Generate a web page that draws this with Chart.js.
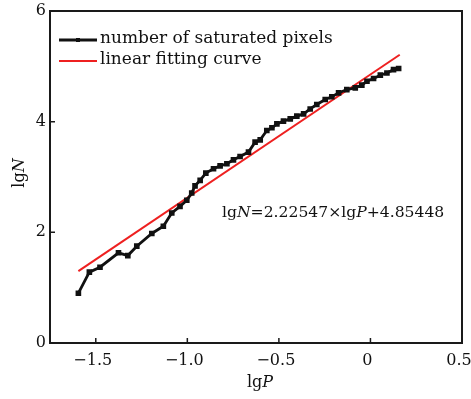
<!DOCTYPE html>
<html>
<head>
<meta charset="utf-8">
<script src="https://cdn.jsdelivr.net/npm/chart.js@4.4.1/dist/chart.umd.min.js"></script>
<style>
  html, body { margin: 0; padding: 0; background: #fff; }
  #wrap { width: 471px; height: 399px; }
</style>
</head>
<body>
<div id="wrap"><canvas id="c" width="471" height="399"></canvas></div>
<script>
const lgP = [-1.595, -1.535, -1.477, -1.376, -1.325, -1.276, -1.194, -1.131, -1.085, -1.040,
  -1.003, -0.976, -0.958, -0.930, -0.899, -0.857, -0.821, -0.784, -0.748, -0.712,
  -0.666, -0.630, -0.602, -0.566, -0.538, -0.511, -0.475, -0.438, -0.402, -0.365,
  -0.329, -0.293, -0.247, -0.211, -0.174, -0.129, -0.083, -0.047, -0.019, 0.017,
  0.054, 0.090, 0.126, 0.154];
const lgN = [0.90, 1.28, 1.37, 1.63, 1.58, 1.75, 1.98, 2.11, 2.35, 2.47,
  2.58, 2.71, 2.84, 2.94, 3.07, 3.15, 3.20, 3.24, 3.31, 3.37,
  3.45, 3.63, 3.67, 3.84, 3.89, 3.96, 4.01, 4.05, 4.10, 4.14,
  4.23, 4.31, 4.40, 4.45, 4.52, 4.58, 4.61, 4.66, 4.73, 4.78,
  4.84, 4.88, 4.94, 4.96];
// linear fitting curve end points
const fitP = [-1.595, 0.16];
const fitN = [1.30, 5.21];

const xTicks = [-1.5, -1.0, -0.5, 0, 0.5];
const yTicks = [0, 2, 4, 6];

const serif = "'DejaVu Serif', serif";

function pts(xs, ys) {
  return xs.map((x, i) => ({ x: x, y: ys[i] }));
}

function drawParts(ctx, parts, x, y, size) {
  // draws text pieces, some italic, left to right
  parts.forEach((p) => {
    ctx.font = (p[1] ? "italic " : "") + size + "px " + serif;
    ctx.fillText(p[0], x, y);
    x += ctx.measureText(p[0]).width;
  });
}
function partsWidth(ctx, parts, size) {
  let w = 0;
  parts.forEach((p) => {
    ctx.font = (p[1] ? "italic " : "") + size + "px " + serif;
    w += ctx.measureText(p[0]).width;
  });
  return w;
}

const frame = {
  id: "frame",
  afterDraw(chart) {
    const ctx = chart.ctx;
    const a = chart.chartArea;
    const xs = chart.scales.x, ys = chart.scales.y;
    ctx.save();
    ctx.strokeStyle = "#1a1a1a";
    ctx.lineWidth = 2;
    ctx.strokeRect(a.left, a.top, a.right - a.left, a.bottom - a.top);
    // inward ticks
    ctx.lineWidth = 1.5;
    ctx.beginPath();
    xs.ticks.forEach((t) => {
      const px = xs.getPixelForValue(t.value);
      ctx.moveTo(px, a.bottom);
      ctx.lineTo(px, a.bottom - 5);
    });
    ys.ticks.forEach((t) => {
      const py = ys.getPixelForValue(t.value);
      ctx.moveTo(a.left, py);
      ctx.lineTo(a.left + 5, py);
    });
    ctx.stroke();

    // legend
    ctx.lineWidth = 3;
    ctx.strokeStyle = "#111";
    ctx.beginPath(); ctx.moveTo(59, 40); ctx.lineTo(97, 40); ctx.stroke();
    ctx.fillStyle = "#111";
    ctx.fillRect(76, 38, 4, 4);
    ctx.lineWidth = 2;
    ctx.strokeStyle = "#ee2020";
    ctx.beginPath(); ctx.moveTo(59, 61); ctx.lineTo(97, 61); ctx.stroke();
    ctx.fillStyle = "#111";
    ctx.textBaseline = "middle";
    ctx.font = "17px " + serif;
    ctx.fillText("number of saturated pixels", 100, 39);
    ctx.fillText("linear fitting curve", 100, 60);

    // fit equation
    drawParts(ctx, [["lg"], ["N", 1], ["=2.22547×lg"], ["P", 1], ["+4.85448"]], 222, 213, 15.6);

    // axis titles
    const xt = [["lg"], ["P", 1]];
    drawParts(ctx, xt, 260 - partsWidth(ctx, xt, 16) / 2, 383, 16);
    ctx.translate(20, 173);
    ctx.rotate(-Math.PI / 2);
    const yt = [["lg"], ["N", 1]];
    drawParts(ctx, yt, -partsWidth(ctx, yt, 16) / 2, 0, 16);
    ctx.restore();
  }
};

const ctx = document.getElementById("c");
new Chart(ctx, {
  type: "scatter",
  data: {
    datasets: [
      {
        label: "number of saturated pixels",
        data: pts(lgP, lgN),
        showLine: true,
        borderColor: "#111",
        backgroundColor: "#111",
        borderWidth: 2.8,
        pointStyle: "rect",
        pointRadius: 2,
        pointHoverRadius: 2,
      },
      {
        label: "linear fitting curve",
        data: pts(fitP, fitN),
        showLine: true,
        borderColor: "#ee2020",
        borderWidth: 2,
        pointRadius: 0,
      },
    ],
  },
  options: {
    responsive: false,
    animation: false,
    events: [],
    layout: { padding: { top: 11, right: 9, left: 0, bottom: 0 } },
    plugins: { legend: { display: false }, tooltip: { enabled: false } },
    scales: {
      x: {
        type: "linear",
        min: -1.75,
        max: 0.5,
        grid: { display: false, drawTicks: false },
        border: { display: false },
        ticks: {
          stepSize: 0.5,
          includeBounds: false,
          padding: 8,
          labelOffset: -3,
          color: "#111",
          font: { family: serif, size: 16 },
          maxRotation: 0,
          callback: (v) => (v === 0 ? "0" : v.toFixed(1).replace("-", "\u2212")),
        },
        afterFit: (s) => { s.height = 56; s.paddingLeft = 0; s.paddingRight = 0; },
      },
      y: {
        min: 0,
        max: 6,
        grid: { display: false, drawTicks: false },
        border: { display: false },
        ticks: {
          stepSize: 2,
          padding: 4,
          color: "#111",
          font: { family: serif, size: 16 },
        },
        afterFit: (s) => { s.width = 50; s.paddingTop = 0; s.paddingBottom = 0; },
      },
    },
  },
  plugins: [frame],
});
</script>
</body>
</html>
